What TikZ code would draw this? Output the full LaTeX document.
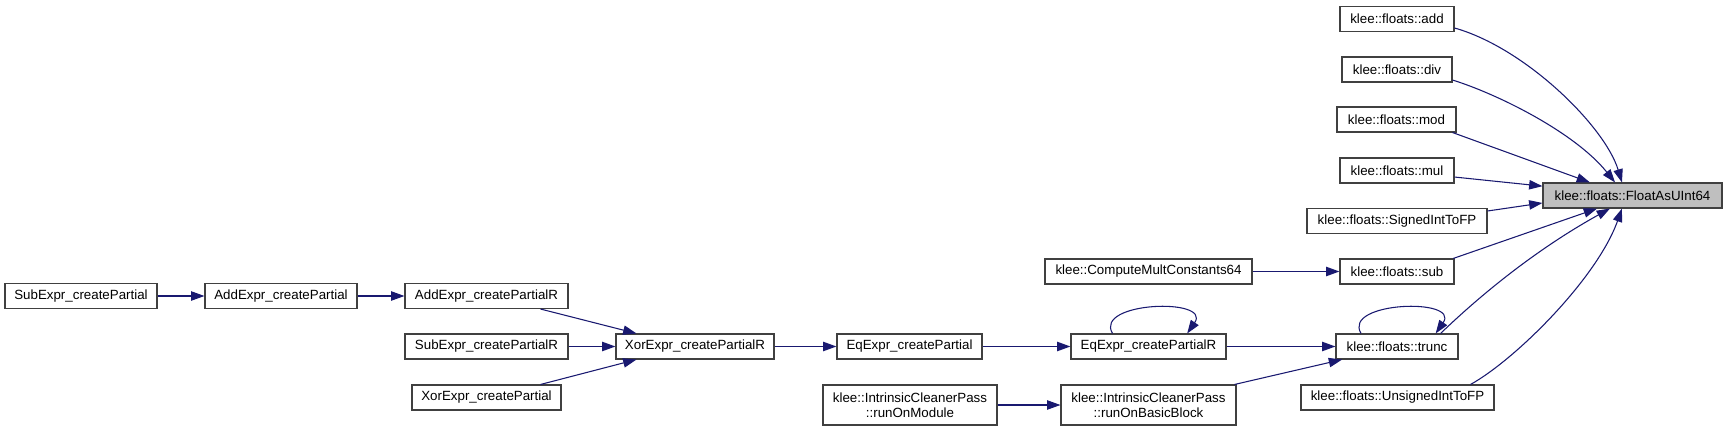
\documentclass[tikz,border=0pt]{standalone}
\usepackage{fontspec}
\setmainfont{Liberation Sans}
\usepackage{tikz}
\usetikzlibrary{arrows.meta, positioning}
\definecolor{edgeblue}{HTML}{191970}
\definecolor{rootgray}{HTML}{BFBFBF}
\tikzset{
  fnbox/.style={
    rectangle, draw=black!75, fill=white, line width=0.8pt,
    minimum height=18.75pt, inner sep=0pt, align=center,
    font=\fontsize{10}{11.25}\selectfont
  },
  rootbox/.style={fnbox, fill=rootgray},
  tallbox/.style={fnbox, minimum height=30pt},
  call/.style={-{Triangle[length=10pt, width=7pt]}, line width=0.8pt, color=edgeblue}
}

\begin{document}
\begin{tikzpicture}[x=0.75pt, y=-0.75pt]
  \useasboundingbox (0,0) rectangle (1727,431);

  % root and its direct callers
  \node[rootbox, minimum width=134.25pt] (flt) at (1632.5,195.5) {klee::floats::FloatAsUInt64};
  \node[fnbox, minimum width=85.5pt]   (add)      at (1397,19)    {klee::floats::add};
  \node[fnbox, minimum width=82.5pt]   (div)      at (1397,69.5)  {klee::floats::div};
  \node[fnbox, minimum width=89.25pt]  (mod)      at (1396.5,119.5) {klee::floats::mod};
  \node[fnbox, minimum width=85.5pt]   (mul)      at (1397,170.5) {klee::floats::mul};
  \node[fnbox, minimum width=135pt]    (signed)   at (1397,221)   {klee::floats::SignedIntToFP};
  \node[fnbox, minimum width=85.5pt]   (sub)      at (1397,271.5) {klee::floats::sub};
  \node[fnbox, minimum width=91.5pt]   (trunc)    at (1397,346.5) {klee::floats::trunc};
  \node[fnbox, minimum width=144.75pt] (unsigned) at (1397.5,397.5) {klee::floats::UnsignedIntToFP};

  % second level
  \node[fnbox, minimum width=155.25pt] (cmc) at (1148.5,271.5) {klee::ComputeMultConstants64};
  \node[fnbox, minimum width=116.25pt] (eqR) at (1148.5,346.5) {EqExpr\_createPartialR};
  \node[tallbox, minimum width=131.25pt] (bb) at (1148.5,405) {klee::IntrinsicCleanerPass\\::runOnBasicBlock};
  \node[fnbox, minimum width=108.75pt] (eq)  at (909.5,346.5) {EqExpr\_createPartial};
  \node[tallbox, minimum width=130.5pt] (rom) at (910,405) {klee::IntrinsicCleanerPass\\::runOnModule};
  \node[fnbox, minimum width=118.5pt]  (xorR) at (695,346.5) {XorExpr\_createPartialR};
  \node[fnbox, minimum width=122.25pt] (addR) at (486.5,296) {AddExpr\_createPartialR};
  \node[fnbox, minimum width=122.25pt] (subR) at (486.5,346.5) {SubExpr\_createPartialR};
  \node[fnbox, minimum width=111.75pt] (xor)  at (486.5,397.5) {XorExpr\_createPartial};
  \node[fnbox, minimum width=114pt]    (addP) at (281,296) {AddExpr\_createPartial};
  \node[fnbox, minimum width=114pt]    (subP) at (81,296) {SubExpr\_createPartial};

  % into FloatAsUInt64
  \draw[call] ([yshift=-6.75pt]add.east) .. controls +(71,20) and +(-17,-56) .. ([xshift=-7.9pt]flt.north);
  \draw[call] ([yshift=-7.9pt]div.east) .. controls +(45,14) and +(-40,-50) .. ([xshift=-13.1pt]flt.north);
  \draw[call] ([xshift=-3pt]mod.south east) -- ([xshift=-31.9pt]flt.north);
  \draw[call] ([yshift=-4.9pt]mul.east) -- ([yshift=7pt]flt.west);
  \draw[call] ([yshift=7.5pt]signed.east) -- ([yshift=-5.6pt]flt.west);
  \draw[call] ([xshift=-1pt]sub.north east) -- ([xshift=-26.6pt]flt.south);
  \draw[call] ([xshift=-13.5pt]trunc.north east) .. controls +(51.5,-49.5) and +(-62.5,34.5) .. ([xshift=-16.9pt]flt.south);
  \draw[call] ([xshift=-18pt]unsigned.north east) .. controls +(45,-25) and +(-25,70) .. ([xshift=-7.9pt]flt.south);

  \draw[call] (cmc) -- (sub);
  \draw[call] (eqR) -- (trunc);
  \draw[call] ([xshift=-1.5pt]bb.north east) -- ([xshift=5pt]trunc.south west);
  \draw[call] (eq) -- (eqR);
  \draw[call] (rom) -- (bb);
  \draw[call] (xorR) -- (eq);
  \draw[call] ([xshift=-21pt]addR.south east) -- ([xshift=15.75pt]xorR.north west);
  \draw[call] (subR) -- (xorR);
  \draw[call] ([xshift=-15.75pt]xor.north east) -- ([xshift=15.75pt]xorR.south west);
  \draw[call] (addP) -- (addR);
  \draw[call] (subP) -- (addP);

  % self loops
  \draw[call] ([xshift=-27pt]eqR.north) .. controls +(-19,-32) and +(25,-36) .. ([xshift=29pt]eqR.north);
  \draw[call] ([xshift=-27pt]trunc.north) .. controls +(-19,-32) and +(25,-36) .. ([xshift=29pt]trunc.north);
\end{tikzpicture}
\end{document}
